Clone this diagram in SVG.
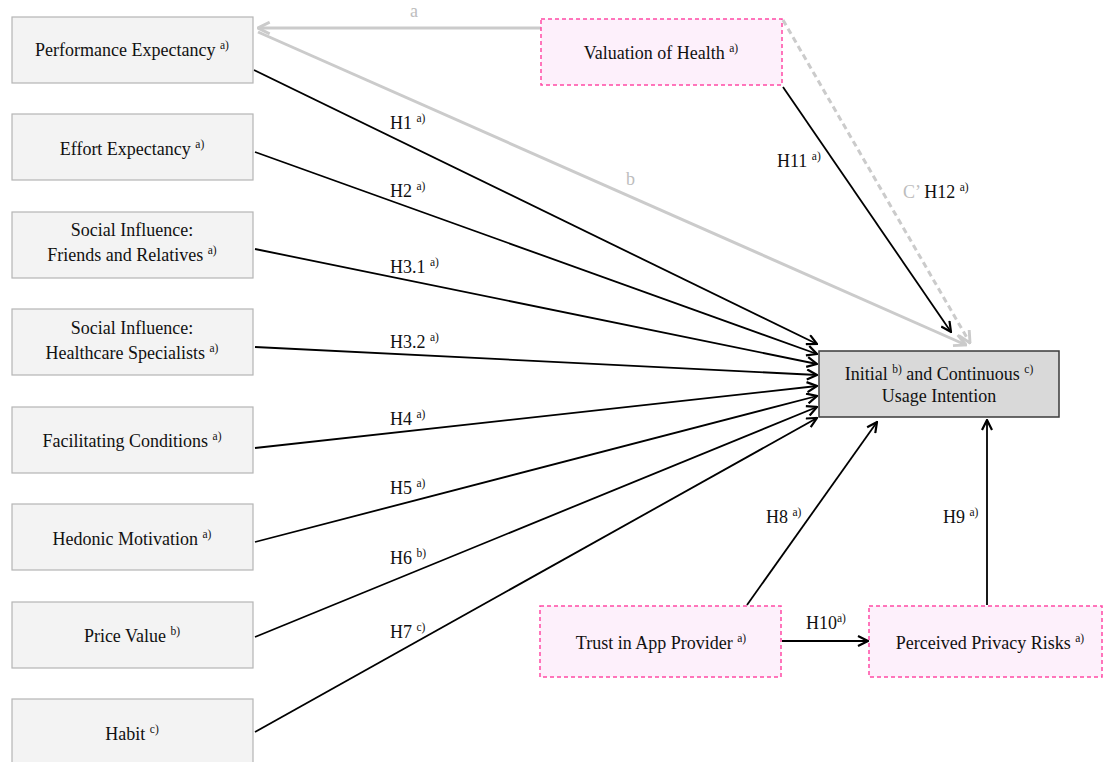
<svg xmlns="http://www.w3.org/2000/svg" width="1103" height="762" viewBox="0 0 1103 762">
<style>
text { font-family: "Liberation Serif", "Times New Roman", serif; font-size: 18px; fill: #111; }
.sup { font-size: 11.5px; }
.gray { fill: #bdbdbd; }
.lbox { fill: #f3f3f3; stroke: #b5b5b5; stroke-width: 1.2; }
.pbox { fill: #fdf0fb; stroke: #ff4aa5; stroke-width: 1.5; stroke-dasharray: 4 3; }
.tbox { fill: #d9d9d9; stroke: #3a3a3a; stroke-width: 1.5; }
.edge { fill: none; stroke: #000; stroke-width: 1.8; marker-end: url(#ah); }
.gedge { fill: none; stroke: #cbcbcb; stroke-width: 3; marker-end: url(#gah); }
</style>
<defs>
<marker id="ah" viewBox="0 0 12 12" refX="11" refY="6" markerWidth="12" markerHeight="12" markerUnits="userSpaceOnUse" orient="auto">
<path d="M1,1 L11,6 L1,11" fill="none" stroke="#000" stroke-width="2.2"/>
</marker>
<marker id="gah" viewBox="0 0 12 12" refX="11" refY="6" markerWidth="14" markerHeight="14" markerUnits="userSpaceOnUse" orient="auto">
<path d="M1,1 L11,6 L1,11" fill="none" stroke="#cbcbcb" stroke-width="2.5"/>
</marker>
</defs>
<rect width="1103" height="762" fill="#fff"/>

<g id="connectors">
<line class="gedge" x1="541" y1="28" x2="258" y2="28"/>
<line class="gedge" x1="258" y1="32" x2="966" y2="345"/>
<line class="gedge" x1="783" y1="20" x2="970" y2="343" stroke-dasharray="6 4"/>
<line class="edge" x1="783" y1="87" x2="951" y2="332"/>
<line class="edge" x1="254" y1="70" x2="817" y2="344"/>
<line class="edge" x1="255" y1="152" x2="817" y2="354"/>
<line class="edge" x1="255" y1="249" x2="817" y2="364"/>
<line class="edge" x1="255" y1="347" x2="817" y2="375"/>
<line class="edge" x1="255" y1="448" x2="817" y2="386"/>
<line class="edge" x1="255" y1="542" x2="817" y2="396"/>
<line class="edge" x1="255" y1="637" x2="817" y2="407"/>
<line class="edge" x1="255" y1="732" x2="817" y2="418"/>
<line class="edge" x1="747" y1="605" x2="877" y2="422"/>
<line class="edge" x1="987" y1="605" x2="987" y2="420"/>
<line class="edge" x1="782" y1="641" x2="868" y2="641"/>
<text x="410" y="17" class="gray">a</text>
<text x="626" y="185" class="gray">b</text>
<text x="390" y="129">H1 <tspan class="sup" dy="-7">a)</tspan></text>
<text x="390" y="197">H2 <tspan class="sup" dy="-7">a)</tspan></text>
<text x="390" y="273">H3.1 <tspan class="sup" dy="-7">a)</tspan></text>
<text x="390" y="348">H3.2 <tspan class="sup" dy="-7">a)</tspan></text>
<text x="390" y="425">H4 <tspan class="sup" dy="-7">a)</tspan></text>
<text x="390" y="494">H5 <tspan class="sup" dy="-7">a)</tspan></text>
<text x="390" y="564">H6 <tspan class="sup" dy="-7">b)</tspan></text>
<text x="390" y="638">H7 <tspan class="sup" dy="-7">c)</tspan></text>
<text x="777" y="167">H11 <tspan class="sup" dy="-7">a)</tspan></text>
<text x="903" y="198"><tspan class="gray">C’</tspan> H12 <tspan class="sup" dy="-7">a)</tspan></text>
<text x="766" y="523">H8 <tspan class="sup" dy="-7">a)</tspan></text>
<text x="943" y="523">H9 <tspan class="sup" dy="-7">a)</tspan></text>
<text x="806" y="629">H10<tspan class="sup" dy="-7">a)</tspan></text>
</g>

<g id="pe"><rect class="lbox" x="12" y="17" width="241" height="66"/>
<text x="132" y="56" text-anchor="middle">Performance Expectancy <tspan class="sup" dy="-7">a)</tspan></text></g>
<g id="ee"><rect class="lbox" x="12" y="114" width="241" height="66"/>
<text x="132" y="155" text-anchor="middle">Effort Expectancy <tspan class="sup" dy="-7">a)</tspan></text></g>
<g id="sifr"><rect class="lbox" x="12" y="212" width="241" height="66"/>
<text x="132" y="236" text-anchor="middle">Social Influence:</text>
<text x="132" y="261" text-anchor="middle">Friends and Relatives <tspan class="sup" dy="-7">a)</tspan></text></g>
<g id="sihs"><rect class="lbox" x="12" y="309" width="241" height="66"/>
<text x="132" y="334" text-anchor="middle">Social Influence:</text>
<text x="132" y="359" text-anchor="middle">Healthcare Specialists <tspan class="sup" dy="-7">a)</tspan></text></g>
<g id="fc"><rect class="lbox" x="12" y="407" width="241" height="66"/>
<text x="132" y="447" text-anchor="middle">Facilitating Conditions <tspan class="sup" dy="-7">a)</tspan></text></g>
<g id="hm"><rect class="lbox" x="12" y="504" width="241" height="66"/>
<text x="132" y="545" text-anchor="middle">Hedonic Motivation <tspan class="sup" dy="-7">a)</tspan></text></g>
<g id="pv"><rect class="lbox" x="12" y="602" width="241" height="66"/>
<text x="132" y="642" text-anchor="middle">Price Value <tspan class="sup" dy="-7">b)</tspan></text></g>
<g id="habit"><rect class="lbox" x="12" y="699" width="241" height="70"/>
<text x="132" y="740" text-anchor="middle">Habit <tspan class="sup" dy="-7">c)</tspan></text></g>

<g id="voh"><rect class="pbox" x="541" y="19" width="241" height="66"/>
<text x="661" y="59" text-anchor="middle">Valuation of Health <tspan class="sup" dy="-7">a)</tspan></text></g>
<g id="target"><rect class="tbox" x="819" y="351" width="240" height="66"/>
<text x="939" y="380" text-anchor="middle">Initial <tspan class="sup" dy="-7">b)</tspan><tspan dy="7"> and Continuous </tspan><tspan class="sup" dy="-7">c)</tspan></text>
<text x="939" y="402" text-anchor="middle">Usage Intention</text></g>
<g id="trust"><rect class="pbox" x="540" y="606" width="241" height="71"/>
<text x="661" y="649" text-anchor="middle">Trust in App Provider <tspan class="sup" dy="-7">a)</tspan></text></g>
<g id="privacy"><rect class="pbox" x="869" y="606" width="233" height="71"/>
<text x="990" y="649" text-anchor="middle">Perceived Privacy Risks <tspan class="sup" dy="-7">a)</tspan></text></g>
</svg>
